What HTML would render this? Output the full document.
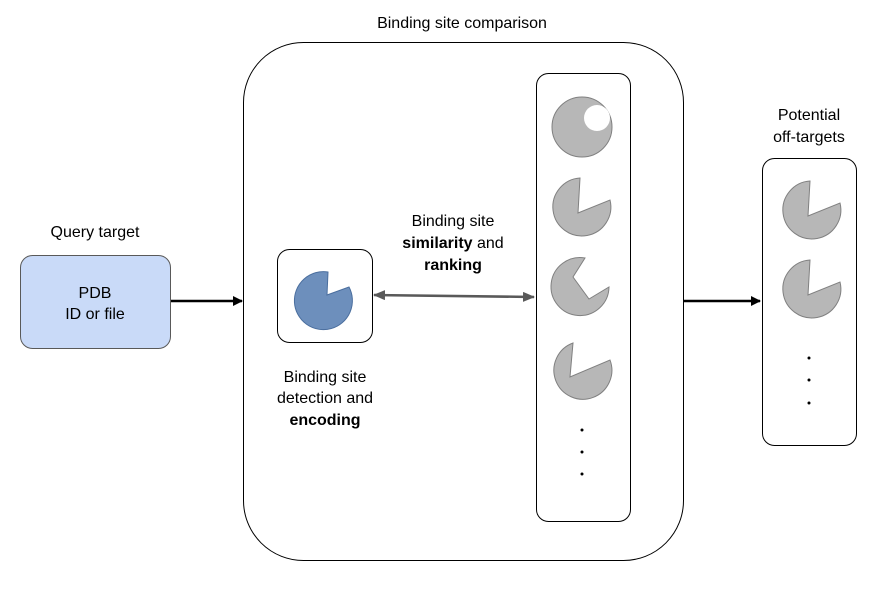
<!DOCTYPE html>
<html><head><style>body{margin:0;background:#fff}svg{display:block}text{font-family:"Liberation Sans",sans-serif;font-size:16px;fill:#000}</style></head><body>
<svg width="876" height="589" viewBox="0 0 876 589">
<defs><marker id="a" markerWidth="10" markerHeight="10" refX="9" refY="5" orient="auto" markerUnits="userSpaceOnUse"><path d="M0,0L10,5L0,10z" fill="#000"/></marker>
<marker id="g" markerWidth="12" markerHeight="10" refX="11" refY="5" orient="auto-start-reverse" markerUnits="userSpaceOnUse"><path d="M0,0L12,5L0,10z" fill="#595959"/></marker></defs>
<text x="462" y="28" text-anchor="middle">Binding site comparison</text>
<rect x="243.5" y="42.5" width="440" height="518" rx="60" fill="#fff" stroke="#000"/>
<text x="95" y="237" text-anchor="middle">Query target</text>
<rect x="20.5" y="255.5" width="150" height="93" rx="12" fill="#c9daf8" stroke="#595959"/>
<text x="95" y="298" text-anchor="middle">PDB</text>
<text x="95" y="319" text-anchor="middle">ID or file</text>
<line x1="171" y1="301" x2="242" y2="301" stroke="#000" stroke-width="2.5" marker-end="url(#a)"/>
<rect x="277.5" y="249.5" width="95" height="93" rx="12" fill="#fff" stroke="#000"/>
<path d="M328,272 A29,29 0 1 0 349,287 L327,295 Z" fill="#6d8fbc" stroke="#4a6e9e"/>
<text x="325" y="382" text-anchor="middle">Binding site</text>
<text x="325" y="403" text-anchor="middle">detection and</text>
<text x="325" y="425" text-anchor="middle" font-weight="bold">encoding</text>
<text x="453" y="226" text-anchor="middle">Binding site</text>
<text x="453" y="248" text-anchor="middle"><tspan font-weight="bold">similarity</tspan> and</text>
<text x="453" y="270" text-anchor="middle" font-weight="bold">ranking</text>
<line x1="374" y1="295" x2="534" y2="297" stroke="#595959" stroke-width="2.5" marker-start="url(#g)" marker-end="url(#g)"/>
<rect x="536.5" y="73.5" width="94" height="448" rx="12" fill="#fff" stroke="#000"/>
<line x1="683" y1="301" x2="760" y2="301" stroke="#000" stroke-width="2.5" marker-end="url(#a)"/>
<text x="809" y="120" text-anchor="middle">Potential</text>
<text x="809" y="142" text-anchor="middle">off-targets</text>
<rect x="762.5" y="158.5" width="94" height="287" rx="12" fill="#fff" stroke="#000"/>
<g fill="#b7b7b7" stroke="#808080">
<circle cx="582" cy="127" r="30"/>
<circle cx="597" cy="118" r="13" fill="#fff" stroke="none"/>
<path d="M580,178 A29,29 0 1 0 610,200 L578,213 Z"/>
<path d="M585,258 A29,29 0 1 0 609,287 L589,299 L573,277 Z"/>
<path d="M573,343 A29,29 0 1 0 610,360 L570,377 Z"/>
<path d="M810,181 A29,29 0 1 0 840,203 L808,216 Z"/>
<path d="M810,260 A29,29 0 1 0 840,282 L808,295 Z"/>
</g>
<g fill="#000"><circle cx="582" cy="430" r="1.5"/><circle cx="582" cy="452" r="1.5"/><circle cx="582" cy="474" r="1.5"/>
<circle cx="809" cy="358" r="1.5"/><circle cx="809" cy="380" r="1.5"/><circle cx="809" cy="403" r="1.5"/></g>
</svg>
</body></html>
